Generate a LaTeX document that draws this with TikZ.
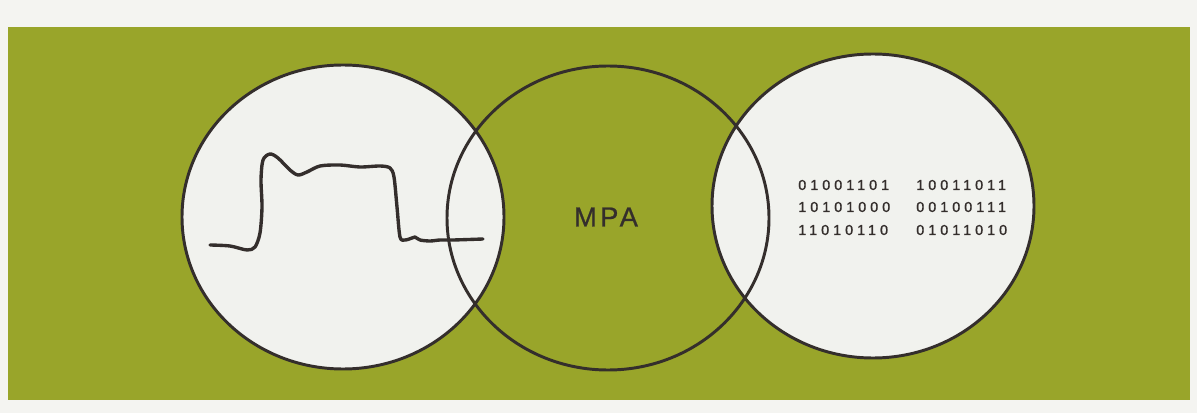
\documentclass[tikz,border=0pt]{standalone}
\usepackage{fontspec}
\usepackage{tikz}
\newfontfamily\labelfont[LetterSpace=12,FakeBold=0.8]{Liberation Sans}
\newfontfamily\bitfont[LetterSpace=28,FakeBold=1.2]{Liberation Sans}
\definecolor{olive}{RGB}{153,165,42}
\definecolor{paper}{RGB}{241,242,238}
\definecolor{page}{RGB}{244,244,241}
\definecolor{ink}{RGB}{52,46,44}

\begin{document}
\begin{tikzpicture}[x=0.025cm,y=-0.025cm,
  ring/.style={draw=ink,line width=2.1pt},
  disc/.style={fill=paper},
  bits/.style={anchor=west,inner sep=0pt,text=ink,font=\bitfont\fontsize{10.2}{12}\selectfont}]
\useasboundingbox (0,0) rectangle (1197,413);
\fill[page] (0,0) rectangle (1197,413);
\fill[olive] (8,27) rectangle (1190,400);
% the three discs
\coordinate (sig) at (343,217);
\coordinate (mid) at (608,218);
\coordinate (dig) at (873,206);
\fill[disc] (sig) ellipse [x radius=161,y radius=152];
\fill[disc] (dig) ellipse [x radius=160,y radius=152];
\foreach \c in {sig,mid,dig}
  \draw[ring] (\c) ellipse [x radius=161,y radius=152];
% analog signal
\draw[ink,line width=2.4pt,line join=round,line cap=round]
  plot[smooth,tension=0.5] coordinates {(210,245) (230,246) (247,250) (255,247) (260,233)
  (262,207) (261,180) (263,160) (270,154) (278,158) (290,170) (298,175) (307,172) (320,166)
  (340,165) (360,167) (380,166) (390,168) (394,177) (397,207) (400,237) (405,240) (412,238)
  (415,237) (420,240) (430,241) (440,240) (453,240) (483,239)};
\node[text=ink,font=\labelfont\fontsize{19.5}{22}\selectfont] (mpa) at (606,217) {MPA};
% digital words
\foreach \a/\b/\y [count=\i] in {01001101/10011011/185,10101000/00100111/207,11010110/01011010/230}{
  \node[bits] (wl\i) at (798,\y) {\a};
  \node[bits] (wr\i) at (916,\y) {\b};}
\end{tikzpicture}
\end{document}
